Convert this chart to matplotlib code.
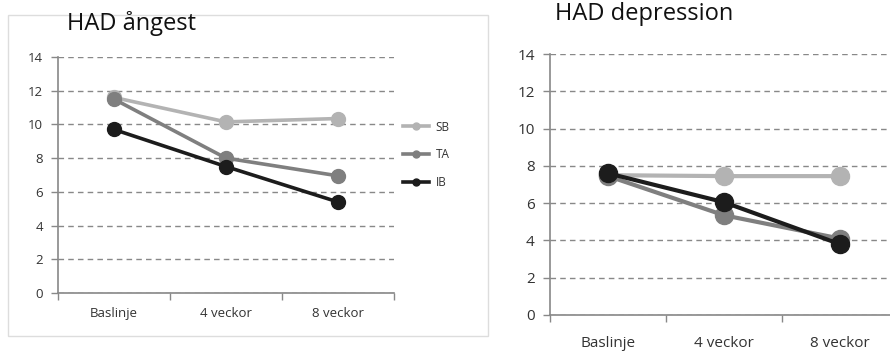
import matplotlib.pyplot as plt
from matplotlib.patches import Rectangle

# Data
categories = ['Baslinje', '4 veckor', '8 veckor']
groups = ['SB', 'TA', 'IB']
colors = ['#b3b3b3', '#7f7f7f', '#1c1c1c']

angest_sb = [11.6, 10.15, 10.35]
angest_ta = [11.5, 8.0, 6.95]
angest_ib = [9.7, 7.5, 5.4]

depr_sb = [7.5, 7.45, 7.45]
depr_ta = [7.45, 5.35, 4.1]
depr_ib = [7.6, 6.05, 3.8]

plt.rcParams['font.family'] = ['Open Sans', 'DejaVu Sans']

W, H = 890, 353
fig = plt.figure(figsize=(W / 100, H / 100), dpi=100)


def px_axes(x0, y_top, x1, y_bot):
    return fig.add_axes([x0 / W, 1 - y_bot / H, (x1 - x0) / W, (y_bot - y_top) / H])


def style_axes(ax, fs, pad):
    ax.set_xlim(-0.5, 2.5)
    ax.set_ylim(0, 14)
    ax.set_yticks(range(0, 15, 2))
    ax.set_xticks(range(len(categories)))
    ax.set_xticklabels(categories, fontsize=fs, color='#333333')
    ax.set_xticks([-0.5, 0.5, 1.5, 2.5], minor=True)
    ax.tick_params(axis='x', which='major', length=0, pad=pad)
    ax.tick_params(axis='x', which='minor', length=5, color='#888888', width=1)
    ax.tick_params(axis='y', length=5, color='#888888', width=1, labelsize=fs,
                   labelcolor='#333333', pad=6)
    for s in ['top', 'right']:
        ax.spines[s].set_visible(False)
    for s in ['left', 'bottom']:
        ax.spines[s].set_color('#888888')
        ax.spines[s].set_linewidth(1.2)
    ax.grid(axis='y', linestyle=(0, (4, 3)), color='#888888', linewidth=1)
    ax.set_axisbelow(True)
    ax.patch.set_alpha(0)


# frame around left chart
fig.patches.append(Rectangle((8 / W, 1 - 336 / H), 480 / W, 321 / H,
                             transform=fig.transFigure, fill=False,
                             edgecolor='#dddddd', linewidth=1))

# Left: HAD ångest
ax1 = px_axes(58, 57, 394, 293)
style_axes(ax1, 9.5, 10)
x = range(len(categories))
for vals, c, name in zip([angest_sb, angest_ta, angest_ib], colors, groups):
    ax1.plot(x, vals, color=c, linewidth=2.6, marker='o', markersize=10,
             label=name, clip_on=False)
fig.text(67 / W, 1 - 23 / H, 'HAD ångest', fontsize=17, va='center', ha='left',
         color='#111111')
ax1.legend(loc='upper left', bbox_to_anchor=(392 / W, 1 - 110 / H),
           bbox_transform=fig.transFigure, frameon=False, markerscale=0.5,
           handlelength=2.2, labelspacing=1.25, fontsize=8.5, handletextpad=0.6,
           labelcolor='#333333')

# Right: HAD depression
ax2 = px_axes(550, 54, 898, 315)
style_axes(ax2, 11, 15)
for vals, c in zip([depr_sb, depr_ta, depr_ib], colors):
    ax2.plot(x, vals, color=c, linewidth=3, marker='o', markersize=13,
             clip_on=False)
fig.text(555 / W, 1 - 14 / H, 'HAD depression', fontsize=17, va='center',
         ha='left', color='#111111')

fig.savefig('out.png', dpi=100)
